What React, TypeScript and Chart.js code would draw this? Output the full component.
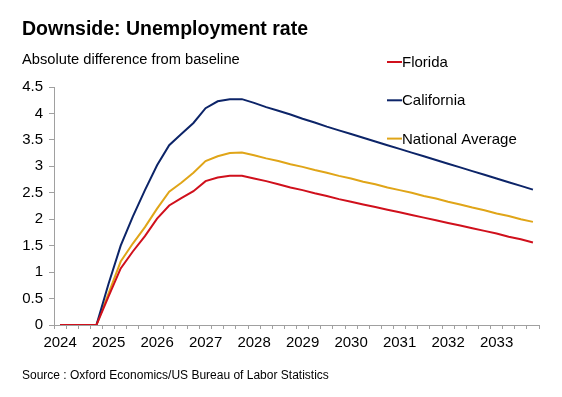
import React, { useEffect, useRef } from "react";
import { Chart, registerables } from "chart.js";

Chart.register(...registerables);

const YEARS = ["2024", "2025", "2026", "2027", "2028", "2029", "2030", "2031", "2032", "2033"];
const QUARTERS = ["Q1", "Q2", "Q3", "Q4"];
const CATEGORIES: string[] = [];
YEARS.forEach((y) => QUARTERS.forEach((q) => CATEGORIES.push(y + q)));

const FLORIDA = [
  0, 0, 0, 0, 0.54, 1.07, 1.39, 1.68, 2.01, 2.26, 2.40, 2.53, 2.72, 2.79, 2.82, 2.82,
  2.77, 2.72, 2.66, 2.60, 2.55, 2.49, 2.44, 2.38, 2.33, 2.28, 2.23, 2.18, 2.13, 2.08,
  2.03, 1.98, 1.93, 1.88, 1.83, 1.78, 1.73, 1.67, 1.62, 1.56,
];
const CALIFORNIA = [
  0, 0, 0, 0, 0.78, 1.50, 2.05, 2.55, 3.02, 3.40, 3.61, 3.82, 4.10, 4.23, 4.27, 4.27,
  4.20, 4.12, 4.05, 3.98, 3.90, 3.83, 3.75, 3.68, 3.61, 3.54, 3.47, 3.40, 3.33, 3.26,
  3.19, 3.12, 3.05, 2.98, 2.91, 2.84, 2.77, 2.70, 2.63, 2.56,
];
const NATIONAL = [
  0, 0, 0, 0, 0.60, 1.20, 1.54, 1.85, 2.20, 2.52, 2.69, 2.88, 3.10, 3.19, 3.25, 3.26,
  3.21, 3.15, 3.10, 3.04, 2.99, 2.93, 2.88, 2.82, 2.77, 2.71, 2.66, 2.60, 2.55, 2.50,
  2.44, 2.39, 2.33, 2.28, 2.22, 2.17, 2.11, 2.06, 2.00, 1.95,
];

const SERIES_NAMES = ["Florida", "California", "National Average"];
const SERIES_COLORS = ["#D0101C", "#0C2468", "#E0A518"];

const TITLE = "Downside: Unemployment rate";
const SUBTITLE = "Absolute difference from baseline";
const SOURCE = "Source : Oxford Economics/US Bureau of Labor Statistics";

const FONT = "'Liberation Sans', Arial, sans-serif";
const AXIS_COLOR = "#A0A0A0";

export default function App() {
  const ref = useRef<HTMLCanvasElement | null>(null);

  useEffect(() => {
    document.body.style.margin = "0";
    const canvas = ref.current;
    if (!canvas) return;

    const textPlugin = {
      id: "textPlugin",
      afterDraw(chart: any) {
        const ctx = chart.ctx;
        ctx.save();
        ctx.fillStyle = "#000";
        ctx.textAlign = "left";
        ctx.textBaseline = "alphabetic";
        ctx.font = `bold 19.5px ${FONT}`;
        ctx.fillText(TITLE, 22, 35);
        ctx.font = `14.7px ${FONT}`;
        ctx.fillText(SUBTITLE, 22, 64);
        ctx.font = `12px ${FONT}`;
        ctx.fillText(SOURCE, 22, 379);
        // legend
        ctx.font = `15px ${FONT}`;
        ctx.textBaseline = "middle";
        SERIES_NAMES.forEach((name, i) => {
          const y = 62 + i * 38.3;
          ctx.strokeStyle = SERIES_COLORS[i];
          ctx.lineWidth = 2;
          ctx.beginPath();
          ctx.moveTo(387, y);
          ctx.lineTo(402, y);
          ctx.stroke();
          ctx.fillStyle = "#000";
          ctx.fillText(name, 402, y + 1);
        });
        ctx.restore();
      },
    };

    const chart = new Chart(canvas, {
      type: "line",
      data: {
        labels: CATEGORIES,
        datasets: [
          { label: SERIES_NAMES[0], data: FLORIDA, borderColor: SERIES_COLORS[0] },
          { label: SERIES_NAMES[1], data: CALIFORNIA, borderColor: SERIES_COLORS[1] },
          { label: SERIES_NAMES[2], data: NATIONAL, borderColor: SERIES_COLORS[2] },
        ].map((d) => ({
          ...d,
          borderWidth: 2,
          pointRadius: 0,
          tension: 0,
          fill: false,
          backgroundColor: d.borderColor,
        })),
      },
      options: {
        responsive: false,
        animation: false,
        layout: { padding: { top: 87, right: 23, left: 0, bottom: 0 } },
        plugins: {
          legend: { display: false },
          title: { display: false },
          tooltip: { enabled: false },
        },
        scales: {
          x: {
            type: "category",
            offset: true,
            grid: {
              display: true,
              offset: true,
              drawOnChartArea: false,
              drawTicks: true,
              tickLength: 4,
              color: AXIS_COLOR,
            },
            border: { display: true, color: AXIS_COLOR, width: 1 },
            ticks: {
              autoSkip: false,
              maxRotation: 0,
              minRotation: 0,
              padding: 5,
              color: "#000",
              font: { family: FONT, size: 15 },
              callback: (_v: any, i: number) => (i % 4 === 0 ? CATEGORIES[i].slice(0, 4) : ""),
            },
            afterFit: (s: any) => {
              s.height = 72;
            },
          },
          y: {
            min: 0,
            max: 4.5,
            grid: {
              display: true,
              drawOnChartArea: false,
              drawTicks: true,
              tickLength: 5,
              color: AXIS_COLOR,
            },
            border: { display: true, color: AXIS_COLOR, width: 1 },
            ticks: {
              stepSize: 0.5,
              padding: 6,
              color: "#000",
              font: { family: FONT, size: 15 },
              callback: (v: any) => String(Math.round(v * 10) / 10),
            },
            afterFit: (s: any) => {
              s.width = 54;
            },
          },
        },
      },
      plugins: [textPlugin],
    } as any);

    return () => chart.destroy();
  }, []);

  return (
    <div style={{ width: 562, height: 397 }}>
      <canvas ref={ref} width={562} height={397} style={{ display: "block" }} />
    </div>
  );
}
